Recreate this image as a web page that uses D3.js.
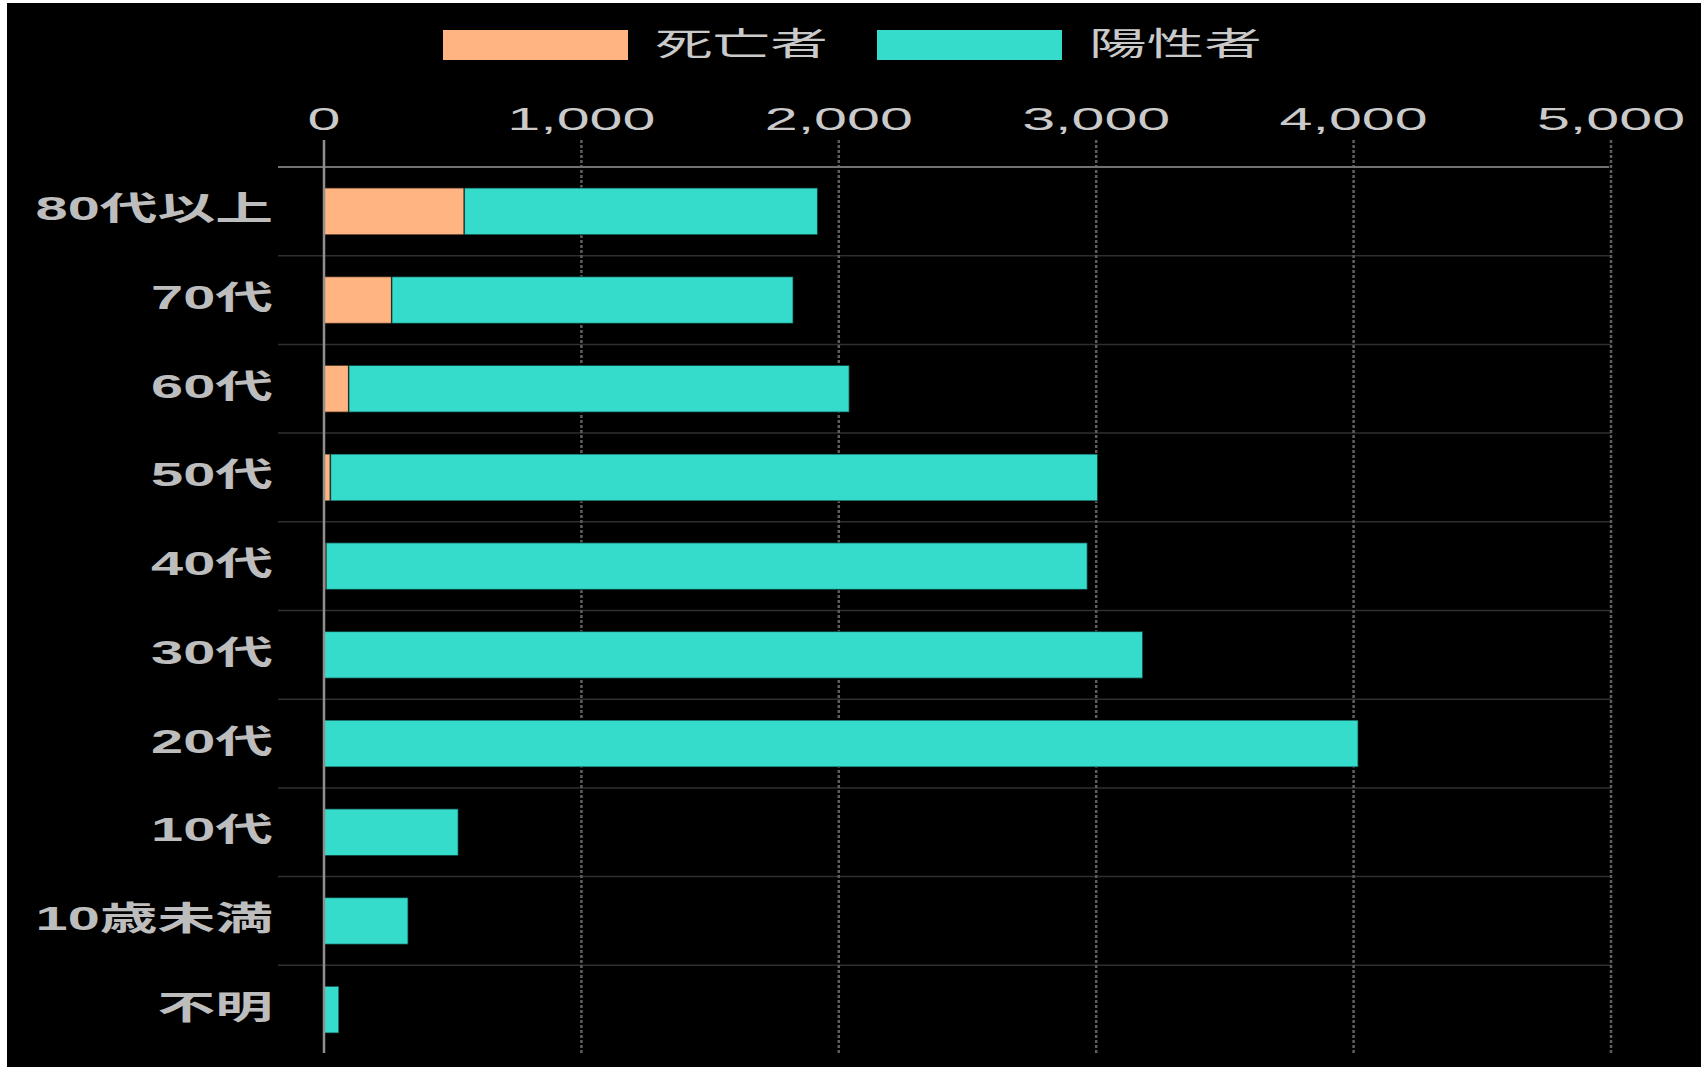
<!DOCTYPE html>
<html>
<head>
<meta charset="utf-8">
<script src="https://cdn.jsdelivr.net/npm/d3@7"></script>
<style>
  html, body { margin: 0; padding: 0; background: #ffffff; }
  svg { display: block; }
</style>
</head>
<body>
<svg id="chart" width="1707" height="1067"></svg>
<script>
// Age groups, top to bottom
const categories = ["80代以上", "70代", "60代", "50代", "40代", "30代", "20代", "10代", "10歳未満", "不明"];
// Deaths per age group
const deaths = [545, 263, 96, 25, 8, 0, 0, 0, 0, 0];
// Positive cases stacked after the deaths segment
const positives = [1373, 1560, 1945, 2981, 2958, 3181, 4018, 522, 327, 58];
// Axis ticks
const xTicks = [0, 1000, 2000, 3000, 4000, 5000];
const seriesNames = ["死亡者", "陽性者"];
const seriesColors = ["#ffb482", "#35dccb"];

const W = 1707, H = 1067;
const plot = { left: 324, right: 1611, top: 167, bottom: 1054 };
const fontStack = "'Liberation Sans', 'Noto Sans CJK JP', sans-serif";

const svg = d3.select("#chart");

// dark canvas
svg.append("rect")
  .attr("x", 7).attr("y", 3)
  .attr("width", 1694).attr("height", H - 3)
  .attr("fill", "#000");

const x = d3.scaleLinear().domain([0, 5000]).range([plot.left, plot.right]);
const y = d3.scaleBand()
  .domain(categories)
  .range([plot.top, plot.bottom])
  .paddingInner(0.47)
  .paddingOuter(0.235);

const step = y.step();
const rows = categories.map((c, i) => ({ cat: c, deaths: deaths[i], positives: positives[i] }));
const stack = d3.stack().keys(["deaths", "positives"]);
const layers = stack(rows);

// horizontal row separators (extend into the label gutter)
const g = svg.append("g");
g.selectAll("line.row")
  .data(categories.slice(1))
  .join("line")
  .attr("class", "row")
  .attr("x1", plot.left - 46).attr("x2", x(5000))
  .attr("y1", d => y(d) - step * 0.235)
  .attr("y2", d => y(d) - step * 0.235)
  .attr("stroke", "#2f2f2f")
  .attr("stroke-width", 1.5);

// vertical grid lines
g.selectAll("line.vgrid")
  .data(xTicks.filter(d => d !== 0))
  .join("line")
  .attr("class", "vgrid")
  .attr("x1", d => x(d)).attr("x2", d => x(d))
  .attr("y1", plot.top - 27).attr("y2", plot.bottom - 1)
  .attr("stroke", "#5e5e5e")
  .attr("stroke-width", 2.5)
  .attr("stroke-dasharray", "3,2");

// top axis line
g.append("line")
  .attr("x1", plot.left - 46).attr("x2", x(5000) - 2)
  .attr("y1", plot.top).attr("y2", plot.top)
  .attr("stroke", "#727272")
  .attr("stroke-width", 2);

// bars
const barG = svg.append("g");
layers.forEach((layer, li) => {
  barG.selectAll(null)
    .data(layer.filter(d => d[1] - d[0] > 0))
    .join("rect")
    .attr("x", d => x(d[0]))
    .attr("y", d => y(d.data.cat))
    .attr("width", d => x(d[1]) - x(d[0]))
    .attr("height", y.bandwidth())
    .attr("fill", seriesColors[li])
    .attr("stroke", "rgba(0,0,0,0.55)")
    .attr("stroke-width", 1.5);
});

// zero line
svg.append("line")
  .attr("x1", x(0)).attr("x2", x(0))
  .attr("y1", plot.top - 27).attr("y2", plot.bottom - 1)
  .attr("stroke", "#8f8f8f")
  .attr("stroke-width", 2.5);

// tick labels
svg.selectAll("text.tick")
  .data(xTicks)
  .join("text")
  .attr("class", "tick")
  .attr("transform", d => `translate(${x(d)},130) scale(1.85,1)`)
  .attr("text-anchor", "middle")
  .attr("font-family", fontStack)
  .attr("font-size", 32)
  .attr("fill", "#cacaca")
  .text(d => d3.format(",")(d));

// category labels
svg.selectAll("text.cat")
  .data(categories)
  .join("text")
  .attr("class", "cat")
  .attr("transform", d => `translate(273,${y(d) + y.bandwidth() / 2 + 9}) scale(1.75,1)`)
  .attr("text-anchor", "end")
  .attr("font-family", fontStack)
  .attr("font-weight", "bold")
  .attr("font-size", 33)
  .attr("fill", "#bdbdbd")
  .text(d => d);

// legend
const legendX = [443, 877];
const leg = svg.selectAll("g.legend")
  .data(seriesNames)
  .join("g")
  .attr("class", "legend")
  .attr("transform", (d, i) => `translate(${legendX[i]},30)`);
leg.append("rect")
  .attr("width", 185).attr("height", 30)
  .attr("fill", (d, i) => seriesColors[i]);
leg.append("text")
  .attr("transform", "translate(212,25) scale(1.8,1)")
  .attr("font-family", fontStack)
  .attr("font-size", 32)
  .attr("fill", "#cacaca")
  .text(d => d);
</script>
</body>
</html>
